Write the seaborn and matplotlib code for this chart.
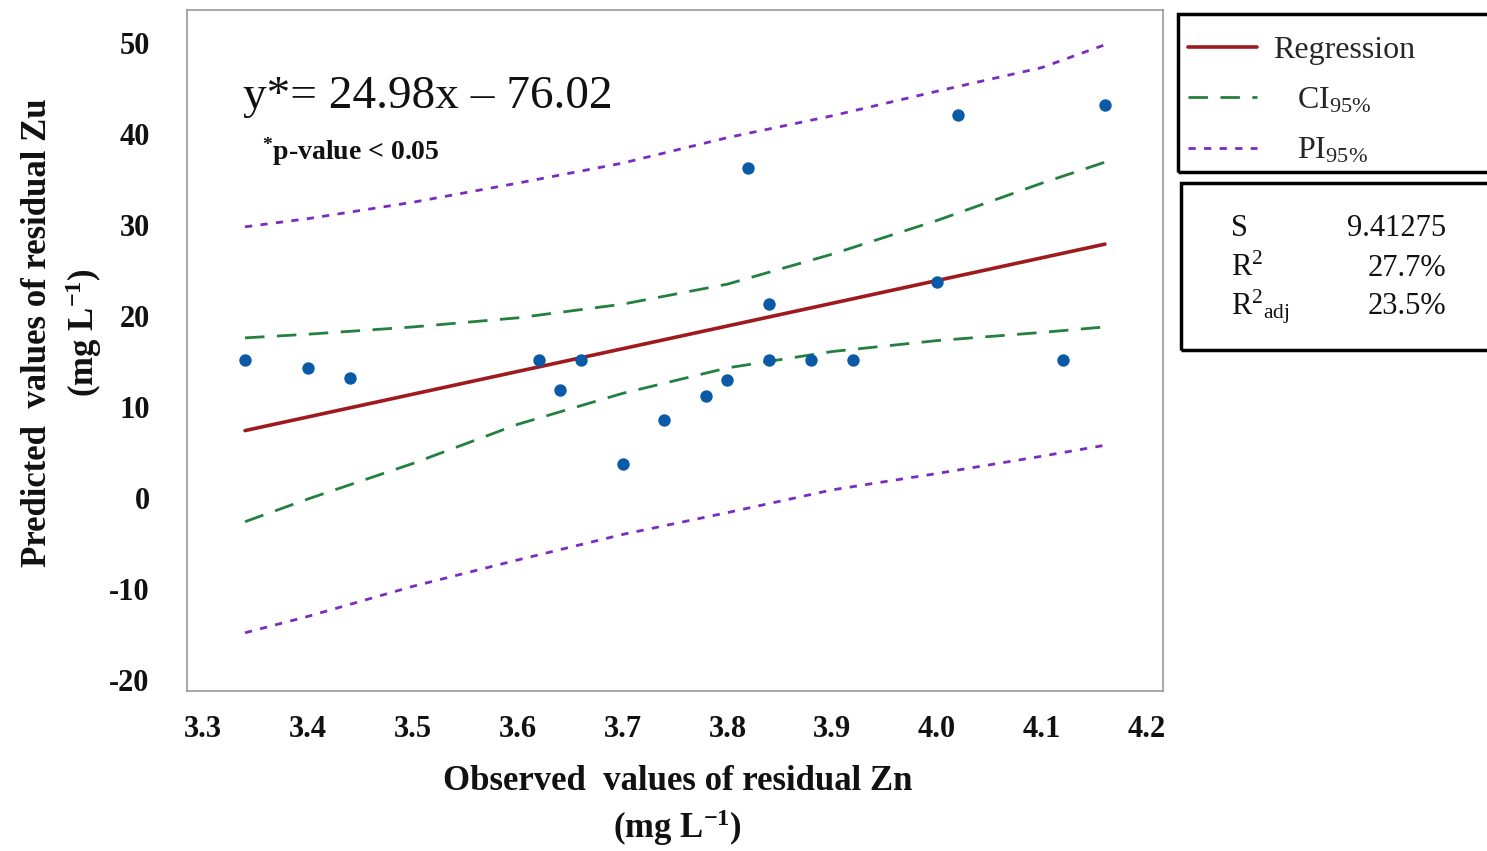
import matplotlib
matplotlib.use("Agg")
import matplotlib.pyplot as plt
from matplotlib.patches import Rectangle
import pandas as pd
import seaborn as sns

# Observed residual Zn (x) and predicted residual Zu (y), mg L-1
zn_observed = [3.34, 3.40, 3.44, 3.62, 3.64, 3.66, 3.70, 3.74, 3.78, 3.80,
               3.82, 3.84, 3.84, 3.88, 3.92, 4.00, 4.02, 4.12, 4.16]
zu_predicted = [15.2, 14.3, 13.2, 15.2, 11.9, 15.2, 3.7, 8.6, 11.2, 13.0,
                36.3, 21.3, 15.2, 15.2, 15.2, 23.7, 42.1, 15.2, 43.2]

# Fitted model: y = slope * x + intercept
slope = 24.98
intercept = -76.02
fit_range = [3.34, 4.16]

# 95 % confidence (CI) and prediction (PI) bands
band_x = [3.34, 3.40, 3.50, 3.60, 3.70, 3.80, 3.90, 4.00, 4.10, 4.16]
ci_upper = [17.6, 18.0, 18.8, 19.8, 21.3, 23.5, 26.8, 30.5, 34.6, 36.9]
ci_lower = [-2.6, -0.1, 3.8, 8.1, 11.5, 14.3, 16.1, 17.3, 18.2, 18.8]
pi_upper = [29.8, 30.7, 32.5, 34.6, 36.8, 39.6, 42.0, 44.7, 47.3, 49.8]
pi_lower = [-14.8, -13.0, -9.7, -6.8, -4.0, -1.6, 0.9, 2.7, 4.6, 5.8]

x_ticks = [3.3, 3.4, 3.5, 3.6, 3.7, 3.8, 3.9, 4.0, 4.1, 4.2]
y_ticks = [-20, -10, 0, 10, 20, 30, 40, 50]

stats_names = ["S", "R$^{2}$", "R$^{2}{}_{\\mathrm{adj}}$"]
stats_values = ["9.41275", "27.7%", "23.5%"]

sns.set_style("white")
plt.rcParams["font.family"] = ["Liberation Serif", "DejaVu Serif"]
plt.rcParams["mathtext.fontset"] = "custom"
plt.rcParams["mathtext.rm"] = "Liberation Serif"
plt.rcParams["mathtext.it"] = "Liberation Serif:italic"
plt.rcParams["mathtext.bf"] = "Liberation Serif:bold"

REG_COLOR = "#9e1a1f"
CI_COLOR = "#23803f"
PI_COLOR = "#7a2cc0"
PT_COLOR = "#0b5aa8"

fig = plt.figure(figsize=(14.87, 8.51), dpi=100)
ax = fig.add_axes([0.1258, 0.188, 0.6562, 0.800])

pts = pd.DataFrame({"zn": zn_observed, "zu": zu_predicted})
reg = pd.DataFrame({"zn": fit_range,
                    "zu": [slope * v + intercept for v in fit_range]})
bands = pd.DataFrame({"zn": band_x, "ci_up": ci_upper, "ci_lo": ci_lower,
                      "pi_up": pi_upper, "pi_lo": pi_lower})

ci_style = (0, (7.0, 4.5))
pi_style = (0, (2.6, 3.0))

sns.lineplot(data=reg, x="zn", y="zu", ax=ax, color=REG_COLOR,
             linewidth=2.6, label="Regression", zorder=3)
sns.lineplot(data=bands, x="zn", y="ci_up", ax=ax, color=CI_COLOR,
             linewidth=2.0, linestyle=ci_style,
             label="   CI$_{\\mathit{95\\%}}$", zorder=2)
sns.lineplot(data=bands, x="zn", y="ci_lo", ax=ax, color=CI_COLOR,
             linewidth=2.0, linestyle=ci_style, zorder=2)
sns.lineplot(data=bands, x="zn", y="pi_up", ax=ax, color=PI_COLOR,
             linewidth=2.0, linestyle=pi_style,
             label="   PI$_{\\mathit{95\\%}}$", zorder=2)
sns.lineplot(data=bands, x="zn", y="pi_lo", ax=ax, color=PI_COLOR,
             linewidth=2.0, linestyle=pi_style, zorder=2)
sns.scatterplot(data=pts, x="zn", y="zu", ax=ax, color=PT_COLOR, s=80,
                edgecolor=PT_COLOR, linewidth=0, zorder=4)

ax.set_xlim(3.2847, 4.2153)
ax.set_ylim(-21.2, 53.6)
ax.set_xticks(x_ticks)
ax.set_xticklabels([f"{v:.1f}" for v in x_ticks])
ax.set_yticks(y_ticks)
ax.set_yticklabels([str(v) for v in y_ticks])

for side in ax.spines.values():
    side.set_color("#9a9a9a")
    side.set_linewidth(1.2)

ax.tick_params(axis="both", direction="out", length=6, width=1,
               color="#9a9a9a", labelsize=22, labelcolor="#111111")
ax.tick_params(axis="y", pad=21)
ax.tick_params(axis="x", pad=11)
for lab in ax.get_xticklabels() + ax.get_yticklabels():
    lab.set_fontweight("bold")

ax.set_xlabel("Observed  values of residual Zn\n(mg L$^{\\mathbf{-1}}$)",
              fontsize=25, fontweight="bold", linespacing=1.3,
              va="center", color="#111111")
ax.xaxis.set_label_coords(0.503, -0.169)
ax.set_ylabel("Predicted  values of residual Zu\n(mg L$^{\\mathbf{-1}}$)",
              fontsize=25, fontweight="bold", linespacing=1.3,
              va="center", color="#111111")
ax.yaxis.set_label_coords(-0.128, 0.527)

ax.text(0.057, 0.856, "y*= 24.98x \u2013 76.02", transform=ax.transAxes,
        fontsize=34, va="baseline", ha="left", color="#111111")
ax.text(0.077, 0.781, "$^{\\mathbf{*}}$p-value < 0.05", transform=ax.transAxes,
        fontsize=20, fontweight="bold", va="baseline", ha="left",
        color="#111111")

# legend entries, framed by a separate box that runs off the right edge
leg = ax.legend(loc="upper left", bbox_to_anchor=(0.7861, 0.0, 0.25, 0.981),
                bbox_transform=fig.transFigure, mode="expand",
                borderaxespad=0, frameon=False,
                fontsize=23, handlelength=2.15, handletextpad=0.5,
                labelspacing=0.66, borderpad=0.6)
legend_box = Rectangle((0.7922, 0.7979), 0.25, 0.1857,
                       transform=fig.transFigure, fill=False,
                       edgecolor="black", linewidth=2.5)
fig.add_artist(legend_box)

# statistics box
stats_box = Rectangle((0.7942, 0.5887), 0.25, 0.196,
                      transform=fig.transFigure, fill=False,
                      edgecolor="black", linewidth=2.5)
fig.add_artist(stats_box)
row_y = [0.732, 0.685, 0.640]
for name, value, yy in zip(stats_names, stats_values, row_y):
    fig.text(0.828, yy, name, fontsize=22, ha="left", va="center",
             color="#111111")
    fig.text(0.9724, yy, value, fontsize=22, ha="right", va="center",
             color="#111111")

fig.savefig("out.png", dpi=100, facecolor="white")
